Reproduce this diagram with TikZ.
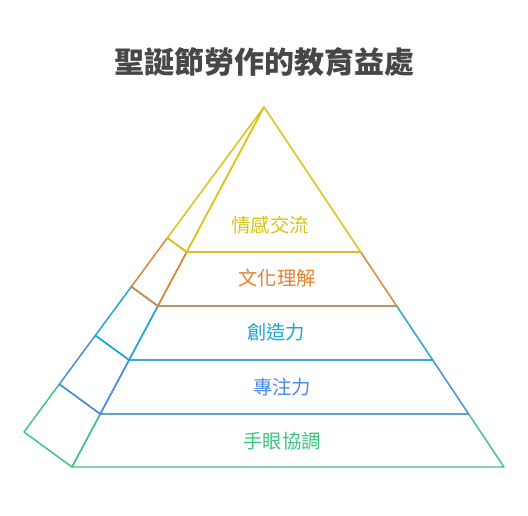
\documentclass[tikz,border=0pt]{standalone}
\usepackage{fontspec}
\newfontfamily\cjk{Noto Sans CJK TC}
\usepackage{tikz}
\usetikzlibrary{calc}
\definecolor{tiyellow}{HTML}{D9C210}
\definecolor{tiorange}{HTML}{E0812E}
\definecolor{ticyan}{HTML}{1AA6DA}
\definecolor{tiblue}{HTML}{4A88E4}
\definecolor{tigreen}{HTML}{3CC47E}
\definecolor{tigray}{HTML}{474747}
\begin{document}
\begin{tikzpicture}[x=0.75pt,y=-0.75pt,line width=1.1pt,line join=round,
  lbl/.style={font=\cjk\fontsize{14.5}{17}\selectfont}]
\useasboundingbox (0,0) rectangle (528,516);
\coordinate (A) at (264,107);
\coordinate (FL) at (72,467);\coordinate (FR) at (504,467);\coordinate (BL) at (24,432);
% level points
\foreach \i/\t in {1/0.4028,2/0.5528,3/0.7028,4/0.8528,5/1}{
  \coordinate (L\i) at ($(A)!\t!(FL)$);
  \coordinate (R\i) at ($(A)!\t!(FR)$);
  \coordinate (B\i) at ($(A)!\t!(BL)$);
}
\draw[tigreen] (L4) -- (L5) -- (R5) -- (R4) -- cycle;\draw[tigreen] (B4) -- (B5) -- (L5) -- (L4) -- cycle;
\draw[tiblue] (L3) -- (L4) -- (R4) -- (R3) -- cycle;\draw[tiblue] (B3) -- (B4) -- (L4) -- (L3) -- cycle;
\draw[ticyan] (L2) -- (L3) -- (R3) -- (R2) -- cycle;\draw[ticyan] (B2) -- (B3) -- (L3) -- (L2) -- cycle;
\draw[tiorange] (L1) -- (L2) -- (R2) -- (R1) -- cycle;\draw[tiorange] (B1) -- (B2) -- (L2) -- (L1) -- cycle;
\draw[tiyellow] (A) -- (L1) -- (R1) -- cycle;\draw[tiyellow] (A) -- (B1) -- (L1) -- cycle;
\node[lbl,text=tiyellow] (emo) at (270,225) {情感交流};
\node[lbl,text=tiorange] (cul) at (277,278) {文化理解};
\node[lbl,text=ticyan] (cre) at (276,332) {創造力};
\node[lbl,text=tiblue] (foc) at (282,387) {專注力};
\node[lbl,text=tigreen] (eye) at (282,441) {手眼協調};
\node[font=\cjk\bfseries\fontsize{22.5}{26}\selectfont,text=tigray] (title) at (264,62) {聖誕節勞作的教育益處};
\end{tikzpicture}
\end{document}
